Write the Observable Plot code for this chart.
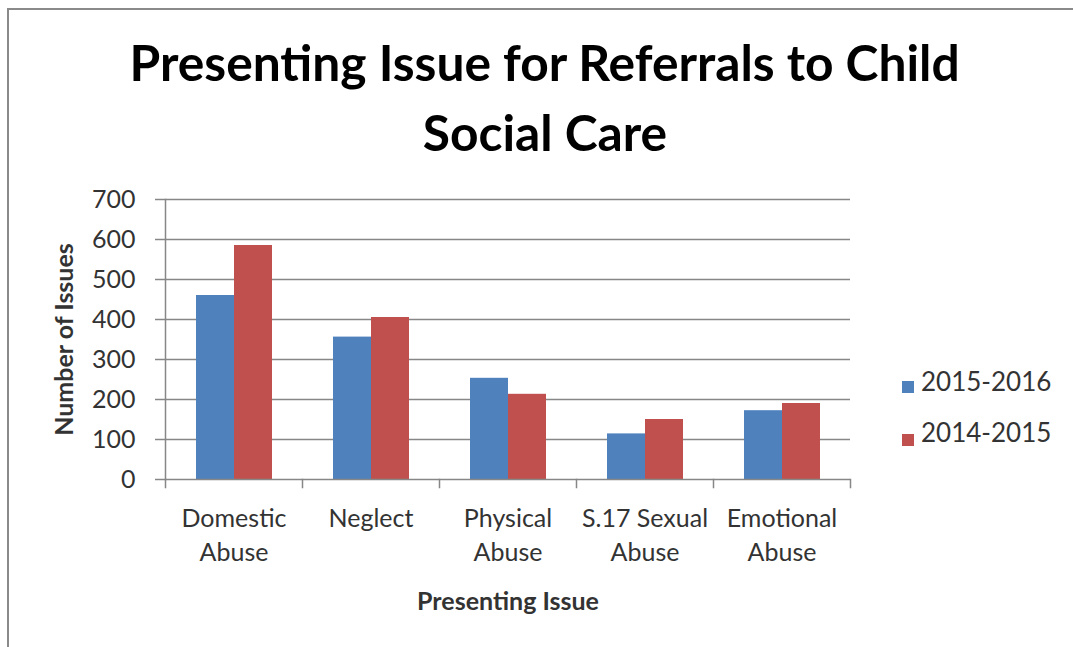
<!DOCTYPE html>
<html><head><meta charset="utf-8">
<script src="https://cdn.jsdelivr.net/npm/d3@7"></script>
<script src="https://cdn.jsdelivr.net/npm/@observablehq/plot@0.6"></script>
<style>
html,body{margin:0;padding:0;background:#fff;width:1073px;height:647px;overflow:hidden;font-family:Lato,sans-serif;}
#frame{position:absolute;left:7px;top:8px;width:1066px;height:639px;border-left:2px solid #8a8a8a;border-top:2px solid #8a8a8a;box-sizing:border-box;}
.title{position:absolute;left:0;width:1090px;text-align:center;font-weight:700;font-size:50px;color:#000;white-space:nowrap;line-height:1;}
.title span{display:inline-block;transform-origin:center;}
#chart{position:absolute;left:0;top:180px;}
#chart g[aria-label="y-axis label"], #chart g[aria-label="fx-axis label"]{font-weight:700;}
.sw{position:absolute;width:12px;height:12px;}
.lg{position:absolute;font-size:26px;line-height:1;color:#333;white-space:nowrap;}
</style></head>
<body>
<div id="frame"></div>
<div class="title" id="t1" style="top:37px"><span>Presenting Issue for Referrals to Child</span></div>
<div class="title" id="t2" style="top:107px"><span>Social Care</span></div>
<div id="chart"></div>
<div id="legend"></div>
<script>
const categories = ["Domestic Abuse","Neglect","Physical Abuse","S.17 Sexual Abuse","Emotional Abuse"];
const categoryLabels = ["Domestic\nAbuse","Neglect","Physical\nAbuse","S.17 Sexual\nAbuse","Emotional\nAbuse"];
const series = ["2015-2016","2014-2015"];
const values2015_2016 = [460, 356, 253, 114, 172];
const values2014_2015 = [585, 405, 213, 150, 190];
const yTicks = [0,100,200,300,400,500,600,700];
const colors = ["#4F81BD","#C0504D"];

const data = categories.flatMap((c,i)=>[
  {category:c, series:series[0], value:values2015_2016[i]},
  {category:c, series:series[1], value:values2014_2015[i]}
]);

// fit title width (Calibri substitute)
const s1 = document.querySelector("#t1 span");
const w1 = s1.getBoundingClientRect().width;
const k = 830 / w1;
document.querySelectorAll(".title span").forEach(s=>s.style.transform=`scaleX(${k})`);

const plotH = 280;
const gridColor = "#878787";
const chart = Plot.plot({
  width:1073, height:447,
  marginLeft:163, marginRight:221, marginTop:19, marginBottom:148,
  style:{fontFamily:"Lato, sans-serif", fontSize:"25px", color:"#333", background:"transparent", overflow:"visible"},
  fx:{domain:categories, padding:0},
  x:{domain:series, paddingInner:0, paddingOuter:0.767, axis:null},
  y:{domain:[0,700], axis:null},
  color:{domain:series, range:colors},
  marks:[
    Plot.ruleY(yTicks.filter(d=>d>0), {stroke:gridColor, strokeWidth:1.5}),
    Plot.barY(data, {fx:"category", x:"series", y:"value", fill:"series", inset:0}),
    Plot.ruleY([0], {stroke:gridColor, strokeWidth:1.5}),
    Plot.frame({anchor:"left", stroke:gridColor, strokeWidth:1.5, insetTop:plotH, insetBottom:-8}),
    Plot.frame({anchor:"right", stroke:gridColor, strokeWidth:1.5, insetTop:plotH, insetBottom:-8, facetAnchor:"right"}),
    Plot.frame({anchor:"left", stroke:gridColor, strokeWidth:1.5, facetAnchor:"left"}),
    Plot.axisY({ticks:yTicks, tickSize:10, tickPadding:20, stroke:gridColor, strokeWidth:1.5, fill:"#333",
      label:"Number of Issues", labelAnchor:"center", labelOffset:110, labelArrow:"none"}),
    Plot.axisFx({anchor:"bottom", tickSize:0, tickPadding:23, fill:"#333",
      tickFormat:d=>categoryLabels[categories.indexOf(d)], lineHeight:1.38,
      label:"Presenting Issue", labelAnchor:"center", labelOffset:130, labelArrow:"none"})
  ]
});
document.getElementById("chart").appendChild(chart);

const lg = document.getElementById("legend");
series.forEach((s,i)=>{
  const sw = document.createElement("div");
  sw.className="sw"; sw.style.background=colors[i];
  sw.style.left="902px"; sw.style.top=(381+i*53)+"px";
  lg.appendChild(sw);
  const t = document.createElement("div");
  t.className="lg"; t.textContent=s;
  t.style.left="921px"; t.style.top=(368+i*51)+"px";
  lg.appendChild(t);
});
</script>
</body></html>
